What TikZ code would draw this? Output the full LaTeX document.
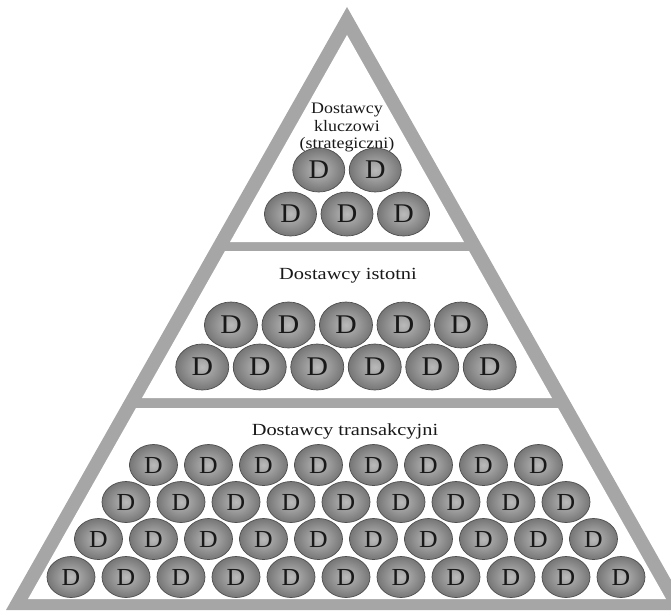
\documentclass[tikz,border=0pt]{standalone}
\usepackage{graphicx}
\usepackage{fontspec}
\setmainfont{Liberation Serif}
\usetikzlibrary{shapes.geometric}

\definecolor{frame}{RGB}{166,166,166}
\definecolor{coinlight}{RGB}{186,186,186}
\definecolor{coindark}{RGB}{118,118,118}
\definecolor{coinedge}{RGB}{78,78,78}

% letter on a coin, stretched horizontally
\newcommand\coinD[1]{\scalebox{#1}[1]{D}}

\tikzset{
  coin/.style={ellipse, inner sep=0pt, draw=coinedge, line width=0.7pt,
    shade, inner color=coinlight, outer color=coindark, text=black!90},
  coinS/.style={coin, minimum width=52pt, minimum height=44pt,
    font=\fontsize{27}{27}\selectfont},
  coinM/.style={coin, minimum width=53pt, minimum height=46pt,
    font=\fontsize{27}{27}\selectfont},
  coinL/.style={coin, minimum width=48pt, minimum height=41pt,
    font=\fontsize{24.5}{24.5}\selectfont},
  tierlabel/.style={inner sep=0pt, anchor=base, text=black!90},
  toplabel/.style={tierlabel, font=\fontsize{16}{18}\selectfont},
  midlabel/.style={tierlabel, font=\fontsize{17}{20}\selectfont}
}

\begin{document}
\begin{tikzpicture}[x=1pt,y=-1pt]
  \useasboundingbox (0,0) rectangle (671,610);
  \clip (0,0) rectangle (671,610);

  % pyramid frame
  \fill[frame] (347,7) -- (6,610) -- (688,610) -- cycle;
  % white tiers
  \fill[white] (347,35) -- (230,242) -- (464,242) -- cycle;
  \fill[white] (225,251) -- (469,251) -- (552,398) -- (142,398) -- cycle;
  \fill[white] (136,408) -- (558,408) -- (666,599) -- (28,599) -- cycle;

  % top tier
  \node[toplabel] (k1) at (347,113) {\scalebox{1.12}[1]{Dostawcy}};
  \node[toplabel] (k2) at (347,131) {\scalebox{1.12}[1]{kluczowi}};
  \node[toplabel] (k3) at (347,148) {\scalebox{1.12}[1]{(strategiczni)}};
  \foreach \i in {1,2}
    \node[coinS] (s1-\i) at ({347+56.5*(\i-1.5)},170) {\coinD{1.05}};
  \foreach \i in {1,2,3}
    \node[coinS] (s2-\i) at ({347+56.5*(\i-2)},214) {\coinD{1.05}};

  % middle tier
  \node[midlabel] (m0) at (348,279) {\scalebox{1.2}[1]{Dostawcy istotni}};
  \foreach \i in {1,...,5}
    \node[coinM] (m1-\i) at ({346+57.5*(\i-3)},325) {\coinD{1.1}};
  \foreach \i in {1,...,6}
    \node[coinM] (m2-\i) at ({346+57.5*(\i-3.5)},367) {\coinD{1.1}};

  % bottom tier
  \node[midlabel] (t0) at (345,435) {\scalebox{1.2}[1]{Dostawcy transakcyjni}};
  \foreach \i in {1,...,8}
    \node[coinL] (b1-\i) at ({346+55*(\i-4.5)},465) {\coinD{1.05}};
  \foreach \i in {1,...,9}
    \node[coinL] (b2-\i) at ({346+55*(\i-5)},502) {\coinD{1.05}};
  \foreach \i in {1,...,10}
    \node[coinL] (b3-\i) at ({346+55*(\i-5.5)},539) {\coinD{1.05}};
  \foreach \i in {1,...,11}
    \node[coinL] (b4-\i) at ({346+55*(\i-6)},577) {\coinD{1.05}};
\end{tikzpicture}
\end{document}
